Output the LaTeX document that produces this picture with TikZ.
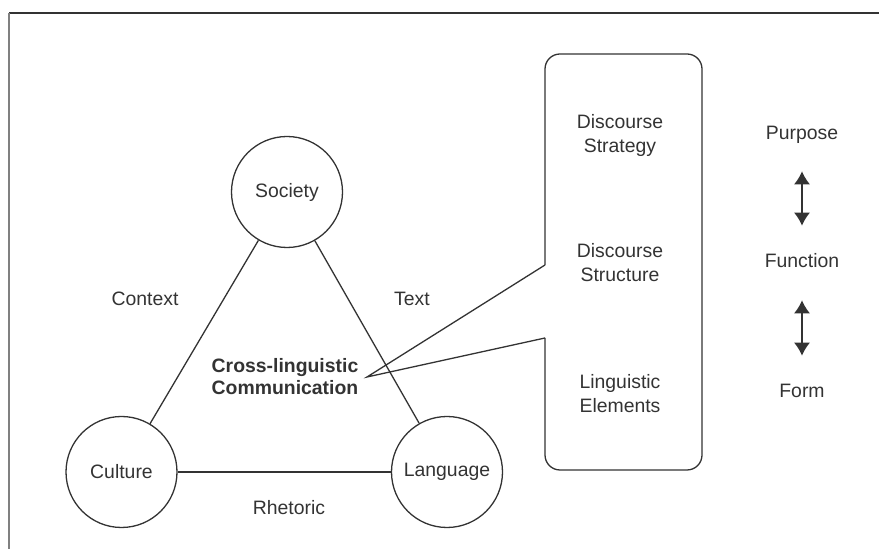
\documentclass[tikz,border=0pt]{standalone}
\usepackage{fontspec}
\setmainfont{Liberation Sans}
\usetikzlibrary{arrows.meta}
\definecolor{ink}{HTML}{333333}

\begin{document}
\begin{tikzpicture}[x=0.5pt, y=-0.5pt, >={Latex[length=6.5pt,width=8pt]}, line width=0.65pt, color=ink,
  every node/.style={text=ink, font=\fontsize{9.7}{12}\selectfont, align=center},
  topic/.style={draw, circle, minimum size=55.5pt, inner sep=0pt},
  core/.style={font=\fontsize{9.7}{11}\selectfont\bfseries},
  level/.style={text height=7pt, text depth=2pt}]
\useasboundingbox (0,0) rectangle (879,549);
% frame
\draw[ink] (9,13) -- (879,13);
\draw[gray] (9,13) -- (9,549);

% triangle
\node[topic] (society) at (287,192) {Society};
\node[topic] (culture) at (121.5,472) {Culture};
\node[topic] (language) at (447,472) {Language};
\draw (society) -- (culture);
\draw (society) -- (language);
\draw (culture) -- (language);
\node (context) at (145,299) {Context};
\node (text) at (412,299) {Text};
\node (rhetoric) at (289,508) {Rhetoric};
\node[core] (comm) at (285,377) {Cross-linguistic\\Communication};

% callout box
\coordinate (tip) at (367,377);
\coordinate (gaptop) at (545,265);
\coordinate (gapbot) at (545,338);
\draw[rounded corners=7.5pt] (gapbot) -- (545,470) -- (702,470) -- (702,54) -- (545,54) -- (gaptop);
\draw (gaptop) -- (tip) -- (gapbot);
\node (strategy) at (620,135) {Discourse\\Strategy};
\node (structure) at (620,263) {Discourse\\Structure};
\node (elements) at (620,394) {Linguistic\\Elements};

% levels
\node[level] (purpose) at (802,135) {Purpose};
\node[level] (function) at (802,263) {Function};
\node[level] (form) at (802,393) {Form};
\draw[<->, shorten <=10pt, shorten >=10.5pt] (purpose) -- (function);
\draw[<->, shorten <=10.5pt, shorten >=10.5pt] (function) -- (form);
\end{tikzpicture}
\end{document}
